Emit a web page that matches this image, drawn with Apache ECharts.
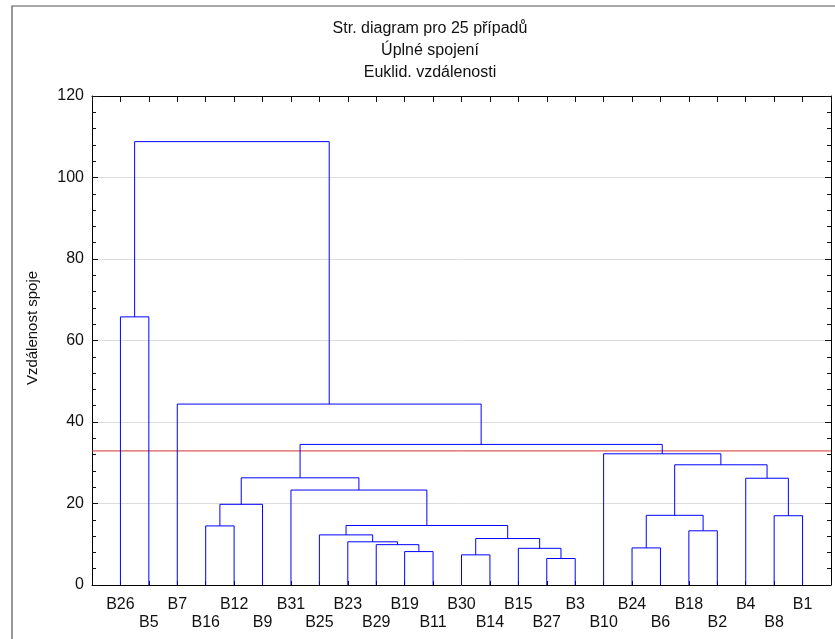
<!DOCTYPE html>
<html>
<head>
<meta charset="utf-8">
<script src="https://cdn.jsdelivr.net/npm/echarts@6/dist/echarts.min.js"></script>
<style>
  html, body { margin: 0; padding: 0; background: #fff; }
  #chart { width: 835px; height: 639px; }
</style>
</head>
<body>
<div id="chart"></div>
<script>
// leaf order along the x axis
var leaves = ['B26','B5','B7','B16','B12','B9','B31','B25','B23','B29','B19','B11','B30',
              'B14','B15','B27','B3','B10','B24','B6','B18','B2','B4','B8','B1'];

// merges: [left node, right node, linkage distance]; 'cN' = result of merge N
var merges = [
    ['B27', 'B3', 6.5],    // c0
    ['B30', 'B14', 7.4],   // c1
    ['B19', 'B11', 8.2],   // c2
    ['B15', 'c0', 9.0],    // c3
    ['B24', 'B6', 9.1],    // c4
    ['B29', 'c2', 9.9],    // c5
    ['B23', 'c5', 10.6],   // c6
    ['c1', 'c3', 11.4],    // c7
    ['B25', 'c6', 12.3],   // c8
    ['B18', 'B2', 13.3],   // c9
    ['B16', 'B12', 14.5],  // c10
    ['c8', 'c7', 14.6],    // c11
    ['B8', 'B1', 17.0],    // c12
    ['c4', 'c9', 17.1],    // c13
    ['c10', 'B9', 19.8],   // c14
    ['B31', 'c11', 23.3],  // c15
    ['B4', 'c12', 26.2],   // c16
    ['c14', 'c15', 26.3],  // c17
    ['c13', 'c16', 29.5],  // c18
    ['B10', 'c18', 32.2],  // c19
    ['c17', 'c19', 34.5],  // c20
    ['B7', 'c20', 44.4],   // c21
    ['B26', 'B5', 65.8],   // c22
    ['c22', 'c21', 108.8]  // c23
];

var cutLevel = 32.9;
var yRange = [0, 120];

// node position: leaf i sits at x = i + 1, cluster sits midway over its children
var nodeX = {}, nodeH = {};
leaves.forEach(function (name, i) { nodeX[name] = i + 1; nodeH[name] = 0; });
var branches = [];
merges.forEach(function (m, k) {
    var a = m[0], b = m[1], h = m[2];
    branches.push({
        coords: [[nodeX[a], nodeH[a]], [nodeX[a], h], [nodeX[b], h], [nodeX[b], nodeH[b]]]
    });
    nodeX['c' + k] = (nodeX[a] + nodeX[b]) / 2;
    nodeH['c' + k] = h;
});
// the cut line is drawn as one more polyline across the whole plot
var cutLine = [{ coords: [[0, cutLevel], [leaves.length + 1, cutLevel]] }];

var font = 'Liberation Sans, Arial, Helvetica, sans-serif';
var myChart = echarts.init(document.getElementById('chart'));

function axisLine() { return { show: true, onZero: false, lineStyle: { color: '#000', width: 1 } }; }
function axisTick(len) { return { show: true, inside: true, length: len, lineStyle: { color: '#111', width: 1 } }; }
function minorTick() { return { show: true, splitNumber: 5, length: 4, lineStyle: { color: '#111', width: 1 } }; }

var option = {
    animation: false,
    graphic: [
        {
            type: 'rect',
            shape: { x: 12, y: 6, width: 826, height: 640 },
            style: { fill: null, stroke: '#555', lineWidth: 1.2 },
            z: -1
        },
        {
            type: 'text',
            x: 430, y: 18,
            style: {
                text: 'Str. diagram pro 25 případů\nÚplné spojení\nEuklid. vzdálenosti',
                align: 'center', verticalAlign: 'top',
                fontFamily: font, fontSize: 16, lineHeight: 22, fill: '#111'
            }
        },
        {
            type: 'text',
            x: 33, y: 328,
            rotation: Math.PI / 2,
            style: {
                text: 'Vzdálenost spoje',
                align: 'center', verticalAlign: 'middle',
                fontFamily: font, fontSize: 15, fill: '#111'
            }
        }
    ],
    grid: { left: 92, right: 4, top: 96, bottom: 54 },
    xAxis: [
        {
            type: 'value', min: 0, max: leaves.length + 1, interval: 1,
            position: 'bottom',
            axisLine: axisLine(),
            axisTick: axisTick(4),
            splitLine: { show: false },
            axisLabel: {
                margin: 11, fontFamily: font, fontSize: 16, color: '#111', lineHeight: 18,
                formatter: function (v) {
                    var name = leaves[v - 1];
                    if (!name) return '';
                    return (v - 1) % 2 === 0 ? name : '\n' + name;
                }
            }
        },
        {
            type: 'value', min: 0, max: leaves.length + 1, interval: 1,
            position: 'top',
            axisLine: axisLine(),
            axisTick: axisTick(6),
            splitLine: { show: false },
            axisLabel: { show: false }
        }
    ],
    yAxis: [
        {
            type: 'value', min: yRange[0], max: yRange[1], interval: 20,
            position: 'left',
            axisLine: axisLine(),
            axisTick: axisTick(6),
            minorTick: minorTick(),
            splitLine: { show: true, lineStyle: { color: '#dcdcdc', width: 1 } },
            axisLabel: { margin: 8, fontFamily: font, fontSize: 16, color: '#111' }
        },
        {
            type: 'value', min: yRange[0], max: yRange[1], interval: 20,
            position: 'right',
            axisLine: axisLine(),
            axisTick: axisTick(6),
            minorTick: minorTick(),
            splitLine: { show: false },
            axisLabel: { show: false }
        }
    ],
    series: [
        {
            type: 'lines',
            coordinateSystem: 'cartesian2d',
            polyline: true,
            data: cutLine,
            lineStyle: { color: '#d83030', width: 1, opacity: 1 }
        },
        {
            type: 'lines',
            coordinateSystem: 'cartesian2d',
            polyline: true,
            data: branches,
            lineStyle: { color: '#0000ff', width: 1, opacity: 1 }
        }
    ]
};

myChart.setOption(option);
</script>
</body>
</html>
